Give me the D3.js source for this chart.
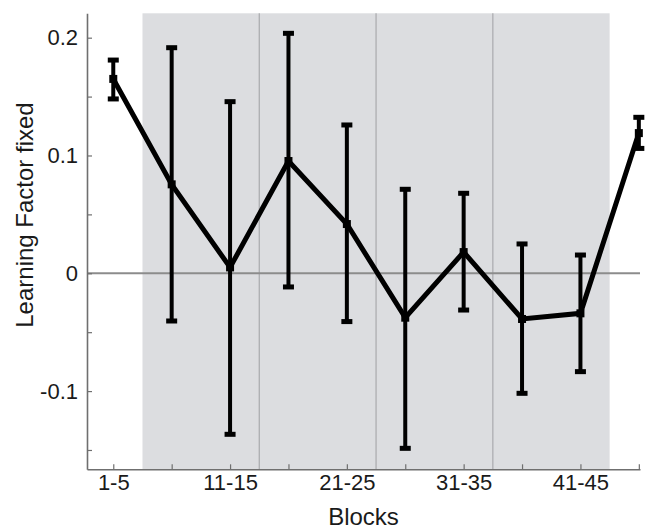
<!DOCTYPE html>
<html>
<head>
<meta charset="utf-8">
<script src="https://cdn.jsdelivr.net/npm/d3@7"></script>
<style>
    body { margin: 0; background: #fff; }
    text { font-family: "Liberation Sans", Arial, sans-serif; fill: #1a1a1a; }
</style>
</head>
<body>
<div id="chart"></div>
<script>
var blocks = ["1-5", "6-10", "11-15", "16-20", "21-25", "26-30", "31-35", "36-40", "41-45", "46-50"];
var means = [0.165, 0.0755, 0.005, 0.0953, 0.0418, -0.0377, 0.018, -0.0388, -0.034, 0.119];
var upper = [0.181, 0.1915, 0.1457, 0.2037, 0.1259, 0.0713, 0.0679, 0.0249, 0.0155, 0.1324];
var lower = [0.148, -0.0405, -0.1367, -0.0116, -0.041, -0.1486, -0.0312, -0.1019, -0.0835, 0.106];
var yTicks = [-0.15, -0.1, -0.05, 0, 0.05, 0.1, 0.15, 0.2];
var yLabels = [-0.1, 0, 0.1, 0.2];
var shadeFrom = 0.5, shadeTo = 8.5;
var dividers = [2.5, 4.5, 6.5];

var width = 655, height = 529;

var svg = d3.select("#chart")
    .append("svg")
    .attr("width", width)
    .attr("height", height);

var x = d3.scaleLinear().domain([-0.45, 9.02]).range([87, 640]);
var y = d3.scaleLinear().domain([-0.1664, 0.2207]).range([469.3, 13.3]);

// grey band + divider lines
svg.append("rect")
    .attr("x", x(shadeFrom))
    .attr("y", y.range()[1])
    .attr("width", x(shadeTo) - x(shadeFrom))
    .attr("height", y.range()[0] - y.range()[1])
    .attr("fill", "#dcdde0");

svg.selectAll("line.divider")
    .data(dividers)
    .enter()
    .append("line")
    .attr("class", "divider")
    .attr("x1", function(d){return x(d)})
    .attr("x2", function(d){return x(d)})
    .attr("y1", y.range()[1])
    .attr("y2", y.range()[0])
    .attr("stroke", "#a9aaad")
    .attr("stroke-width", 1.2);

// zero line
svg.append("line")
    .attr("x1", x.range()[0])
    .attr("x2", x.range()[1])
    .attr("y1", y(0))
    .attr("y2", y(0))
    .attr("stroke", "#8c8c8c")
    .attr("stroke-width", 2);

// axes
var xAxis = d3.axisBottom(x)
    .tickValues(d3.range(blocks.length))
    .tickSizeInner(-5)
    .tickSizeOuter(0)
    .tickPadding(5)
    .tickFormat(function(d){return d % 2 === 0 ? blocks[d] : ""});

var yAxis = d3.axisLeft(y)
    .tickValues(yTicks)
    .tickSizeInner(-5)
    .tickSizeOuter(0)
    .tickPadding(9)
    .tickFormat(function(d){
        return yLabels.some(function(v){return Math.abs(v - d) < 1e-9}) ? (Math.abs(d) < 1e-9 ? "0" : String(d)) : "";
    });

var gx = svg.append("g")
    .attr("transform", "translate(0," + y.range()[0] + ")")
    .call(xAxis);

var gy = svg.append("g")
    .attr("transform", "translate(" + x.range()[0] + ",0)")
    .call(yAxis);

[gx, gy].forEach(function(g){
    g.select(".domain").attr("stroke", "#6f6f6f").attr("stroke-width", 1.6);
    g.selectAll(".tick line").attr("stroke", "#6f6f6f").attr("stroke-width", 1.2);
    g.selectAll(".tick text")
        .attr("font-family", "Liberation Sans, Arial, sans-serif")
        .attr("font-size", 22)
        .attr("fill", "#1a1a1a");
});

// axis titles
svg.append("text")
    .attr("x", (x.range()[0] + x.range()[1]) / 2)
    .attr("y", 525)
    .attr("text-anchor", "middle")
    .attr("font-size", 24)
    .text("Blocks");

svg.append("text")
    .attr("transform", "translate(33,215) rotate(-90)")
    .attr("text-anchor", "middle")
    .attr("font-size", 24)
    .text("Learning Factor fixed");

// error bars
var idx = d3.range(blocks.length);

svg.selectAll("line.err")
    .data(idx)
    .enter()
    .append("line")
    .attr("class", "err")
    .attr("x1", function(d){return x(d)})
    .attr("x2", function(d){return x(d)})
    .attr("y1", function(d){return y(upper[d])})
    .attr("y2", function(d){return y(lower[d])})
    .attr("stroke", "#000")
    .attr("stroke-width", 4);

svg.selectAll("rect.capTop")
    .data(idx)
    .enter()
    .append("rect")
    .attr("class", "capTop")
    .attr("x", function(d){return x(d) - 5.5})
    .attr("y", function(d){return y(upper[d]) - 2.5})
    .attr("width", 11)
    .attr("height", 5)
    .attr("fill", "#000");

svg.selectAll("rect.capBottom")
    .data(idx)
    .enter()
    .append("rect")
    .attr("class", "capBottom")
    .attr("x", function(d){return x(d) - 5.5})
    .attr("y", function(d){return y(lower[d]) - 2.5})
    .attr("width", 11)
    .attr("height", 5)
    .attr("fill", "#000");

// mean line
var line = d3.line()
    .x(function(d){return x(d)})
    .y(function(d){return y(means[d])});

svg.append("path")
    .datum(idx)
    .attr("d", line)
    .attr("fill", "none")
    .attr("stroke", "#000")
    .attr("stroke-width", 5)
    .attr("stroke-linejoin", "miter");

svg.selectAll("rect.mean")
    .data(idx)
    .enter()
    .append("rect")
    .attr("class", "mean")
    .attr("x", function(d){return x(d) - 4})
    .attr("y", function(d){return y(means[d]) - 4})
    .attr("width", 8)
    .attr("height", 8)
    .attr("fill", "#000");
</script>
</body>
</html>
